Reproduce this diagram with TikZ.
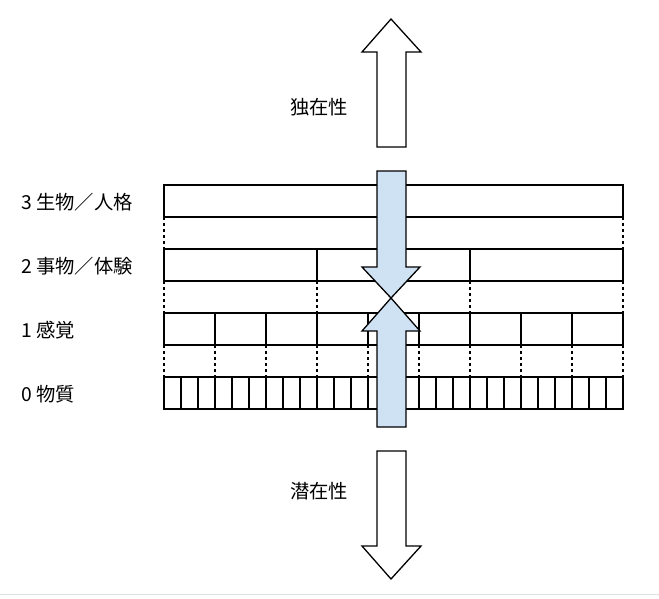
\documentclass[tikz,border=0pt]{standalone}
\usepackage{fontspec}
\newfontfamily\jpfont{Noto Sans CJK JP}
\definecolor{arrowblue}{RGB}{207,226,243}
\begin{document}
\begin{tikzpicture}[x=1pt,y=-1pt]
        \tikzset{bar/.style = {draw, line width=1.6pt}}
        \tikzset{gap/.style = {line width=1.6pt, dash pattern=on 3pt off 3pt}}
        \tikzset{level/.style = {anchor=west, inner sep=0pt, font=\jpfont\fontsize{19.3}{19.3}\selectfont}}
        \tikzset{side/.style = {inner sep=0pt, font=\jpfont\fontsize{19.3}{19.3}\selectfont}}
        \tikzset{bigarrow/.style = {draw, line width=1.3pt, fill=white, line join=miter}}
        \tikzset{midarrow/.style = {bigarrow, fill=arrowblue}}
        \useasboundingbox (0,0) rectangle (659,598);
        \draw[gray!25, line width=1pt] (0,594) -- (659,594);
        % levels
        \node[level] (l3) at (21,202) {3 生物／人格};
        \node[level] (l2) at (21,266) {2 事物／体験};
        \node[level] (l1) at (21,330) {1 感覚};
        \node[level] (l0) at (21,394) {0 物質};
        % bars
        \draw[bar] (164,185) rectangle (623,217);
        \draw[bar] (164,249) rectangle (623,281);
        \draw[bar] (164,313) rectangle (623,345);
        \draw[bar] (164,377) rectangle (623,409);
        \foreach \i in {1,2} \draw[bar] (164+153*\i,249) -- (164+153*\i,281);
        \foreach \i in {1,...,8} \draw[bar] (164+51*\i,313) -- (164+51*\i,345);
        \foreach \i in {1,...,26} \draw[bar] (164+17*\i,377) -- (164+17*\i,409);
        % dotted links
        \foreach \i in {0,1} \draw[gap] (164+459*\i,217) -- (164+459*\i,249);
        \foreach \i in {0,...,3} \draw[gap] (164+153*\i,281) -- (164+153*\i,313);
        \foreach \i in {0,...,9} \draw[gap] (164+51*\i,345) -- (164+51*\i,377);
        % arrows
        \draw[bigarrow] (391,19) -- (421,52) -- (406,52) -- (406,147) -- (377,147) -- (377,52) -- (362,52) -- cycle;
        \draw[bigarrow] (377,451) -- (406,451) -- (406,546) -- (421,546) -- (391,579) -- (362,546) -- (377,546) -- cycle;
        \draw[midarrow] (377,171) -- (406,171) -- (406,267) -- (420,267) -- (391,298) -- (362,267) -- (377,267) -- cycle;
        \draw[midarrow] (391,298) -- (420,331) -- (406,331) -- (406,427) -- (377,427) -- (377,331) -- (362,331) -- cycle;
        \node[side] (up) at (319,107) {独在性};
        \node[side] (down) at (319,491) {潜在性};
\end{tikzpicture}
\end{document}
